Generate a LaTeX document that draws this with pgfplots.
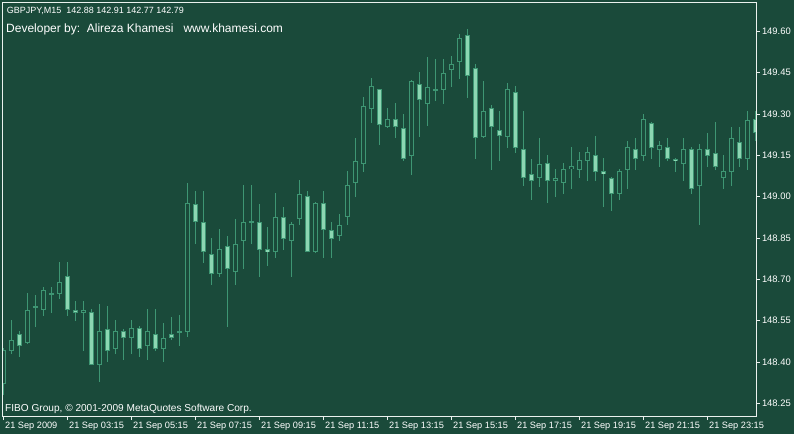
\documentclass[border=0pt]{standalone}
\usepackage{pgfplots}
\pgfplotsset{compat=1.18}
\usepackage{pgfplotstable}
\usepackage{fontspec}
\setmainfont{Liberation Sans}
\definecolor{bg}{RGB}{26,74,58}
\definecolor{wick}{RGB}{62,150,115}
\definecolor{bodyfill}{RGB}{140,214,178}
\definecolor{frame}{RGB}{235,242,238}

\pgfplotstableread{
i O H L C
0 148.322 148.450 148.280 148.443
1 148.441 148.552 148.429 148.482
2 148.501 148.512 148.419 148.459
3 148.470 148.651 148.465 148.591
4 148.602 148.643 148.528 148.602
5 148.588 148.672 148.568 148.661
6 148.649 148.672 148.579 148.649
7 148.647 148.764 148.628 148.690
8 148.712 148.763 148.568 148.588
9 148.591 148.621 148.548 148.579
10 148.579 148.621 148.441 148.591
11 148.581 148.592 148.388 148.390
12 148.390 148.610 148.328 148.512
13 148.522 148.603 148.401 148.441
14 148.448 148.552 148.429 148.512
15 148.512 148.522 148.407 148.489
16 148.489 148.552 148.429 148.522
17 148.522 148.531 148.418 148.448
18 148.459 148.592 148.407 148.512
19 148.501 148.592 148.441 148.448
20 148.448 148.541 148.401 148.489
21 148.501 148.563 148.479 148.489
22 148.512 148.570 148.459 148.512
23 148.510 149.052 148.491 148.979
24 148.972 149.020 148.828 148.909
25 148.910 149.020 148.760 148.800
26 148.791 148.849 148.679 148.720
27 148.720 148.881 148.709 148.809
28 148.820 148.859 148.528 148.738
29 148.727 148.921 148.679 148.830
30 148.840 149.042 148.737 148.910
31 148.910 149.042 148.828 148.910
32 148.910 148.973 148.709 148.807
33 148.809 148.890 148.748 148.800
34 148.800 149.013 148.777 148.928
35 148.928 148.962 148.806 148.847
36 148.840 148.910 148.709 148.899
37 148.920 149.060 148.897 149.012
38 149.001 149.020 148.798 148.800
39 148.800 148.980 148.798 148.979
40 148.979 149.020 148.778 148.880
41 148.881 148.910 148.778 148.847
42 148.858 148.939 148.840 148.899
43 148.927 149.093 148.898 149.041
44 149.051 149.214 149.000 149.133
45 149.121 149.360 149.090 149.331
46 149.319 149.430 149.268 149.401
47 149.389 149.392 149.188 149.259
48 149.252 149.322 149.250 149.281
49 149.281 149.339 149.212 149.252
50 149.252 149.300 149.130 149.139
51 149.148 149.422 149.079 149.419
52 149.411 149.453 149.217 149.350
53 149.339 149.510 149.257 149.400
54 149.389 149.499 149.348 149.389
55 149.389 149.499 149.337 149.451
56 149.458 149.510 149.399 149.480
57 149.490 149.590 149.428 149.578
58 149.589 149.611 149.359 149.439
59 149.469 149.480 149.138 149.212
60 149.217 149.420 149.212 149.310
61 149.320 149.332 149.098 149.252
62 149.241 149.311 149.130 149.219
63 149.217 149.411 149.177 149.389
64 149.380 149.401 149.159 149.177
65 149.172 149.311 149.038 149.069
66 149.081 149.139 148.989 149.058
67 149.069 149.213 149.038 149.121
68 149.121 149.151 148.978 149.058
69 149.058 149.100 149.000 149.070
70 149.050 149.122 149.009 149.100
71 149.099 149.180 149.029 149.110
72 149.098 149.163 149.069 149.132
73 149.130 149.180 149.058 149.161
74 149.150 149.220 149.058 149.090
75 149.092 149.139 148.960 149.081
76 149.070 149.072 148.949 149.010
77 149.010 149.100 148.989 149.092
78 149.098 149.202 149.029 149.179
79 149.172 149.213 149.098 149.138
80 149.148 149.300 149.129 149.281
81 149.270 149.272 149.138 149.179
82 149.170 149.202 149.108 149.190
83 149.179 149.213 149.129 149.138
84 149.139 149.141 149.089 149.130
85 149.119 149.213 149.058 149.172
86 149.172 149.180 149.009 149.029
87 149.040 149.190 148.897 149.172
88 149.172 149.231 149.108 149.148
89 149.161 149.270 149.098 149.108
90 149.069 149.151 149.029 149.092
91 149.090 149.252 149.040 149.212
92 149.201 149.252 149.108 149.138
93 149.138 149.311 149.098 149.281
94 149.281 149.314 149.205 149.230
}\candles

\begin{document}
\begin{tikzpicture}
\fill[bg] (-2.3pt,-17.3pt) rectangle (791.7pt,416.7pt);
\path[use as bounding box] (-2.3pt,-17.3pt) rectangle (791.7pt,416.7pt);
\begin{axis}[
  at={(0pt,0pt)}, anchor=south west,
  scale only axis, width=754pt, height=414.4pt,
  xmin=-0.125, xmax=94.125, ymin=148.2011, ymax=149.7053,
  axis on top,
  axis line style={draw=frame, line width=0.8pt},
  tick style={draw=frame, line width=0.8pt},
  tick align=outside, major tick length=3.5pt,
  ytick pos=right, yticklabel pos=right,
  xtick pos=bottom,
  ytick={148.25,148.40,148.55,148.70,148.85,149.00,149.15,149.30,149.45,149.60},
  xtick={0,8,16,24,32,40,48,56,64,72,80,88},
  xticklabels={21 Sep 2009,21 Sep 03:15,21 Sep 05:15,21 Sep 07:15,21 Sep 09:15,21 Sep 11:15,21 Sep 13:15,21 Sep 15:15,21 Sep 17:15,21 Sep 19:15,21 Sep 21:15,21 Sep 23:15},
  xticklabel style={anchor=north west, inner sep=0pt, xshift=1.7pt, yshift=-1.5pt, text=white, font=\fontsize{9.2}{10}\selectfont},
  yticklabel style={anchor=west, inner sep=0pt, xshift=2pt, text=white, font=\fontsize{9.4}{10}\selectfont,
    /pgf/number format/.cd, fixed, fixed zerofill, precision=2, 1000 sep={}, assume math mode=true},
  minor tick num=0,
  every axis plot/.append style={draw=none, mark=none, forget plot},
]
% wicks
\addplot[draw=none, mark=none,
  error bars/.cd, y dir=both, y explicit, error mark=none,
  error bar style={draw=wick, line width=1pt}]
  table[x=i, y expr={(\thisrow{H}+\thisrow{L})/2}, y error expr={(\thisrow{H}-\thisrow{L})/2}] {\candles};
% body outlines
\addplot[draw=none, mark=none,
  error bars/.cd, y dir=both, y explicit, error mark=none,
  error bar style={draw=wick, line width=5pt}]
  table[x=i, y expr={(\thisrow{O}+\thisrow{C})/2}, y error expr={max(abs(\thisrow{O}-\thisrow{C})/2,0.0018)}] {\candles};
% bearish bodies (filled)
\addplot[draw=none, mark=none,
  restrict expr to domain={\thisrow{O}-\thisrow{C}}{0.0075:10},
  error bars/.cd, y dir=both, y explicit, error mark=none,
  error bar style={draw=bodyfill, line width=3pt}]
  table[x=i, y expr={(\thisrow{O}+\thisrow{C})/2}, y error expr={(\thisrow{O}-\thisrow{C})/2-0.00363}] {\candles};
% bullish bodies (hollow)
\addplot[draw=none, mark=none,
  restrict expr to domain={\thisrow{C}-\thisrow{O}}{0.0075:10},
  error bars/.cd, y dir=both, y explicit, error mark=none,
  error bar style={draw=bg, line width=3pt}]
  table[x=i, y expr={(\thisrow{O}+\thisrow{C})/2}, y error expr={(\thisrow{C}-\thisrow{O})/2-0.00363}] {\candles};
\end{axis}
\node[anchor=base west, inner sep=0pt, text=white, font=\fontsize{9}{10}\selectfont] at (4.4pt,402.7pt) {GBPJPY,M15\ \ 142.88 142.91 142.77 142.79};
\node[anchor=base west, inner sep=0pt, text=white, font=\fontsize{12}{14}\selectfont] at (3.7pt,384.4pt) {Developer by:\ \ Alireza Khamesi\ \ \ www.khamesi.com};
\node[anchor=base west, inner sep=0pt, text=white, font=\fontsize{10.1}{12}\selectfont] at (2.7pt,5pt) {FIBO Group, © 2001-2009 MetaQuotes Software Corp.};
\end{tikzpicture}
\end{document}
